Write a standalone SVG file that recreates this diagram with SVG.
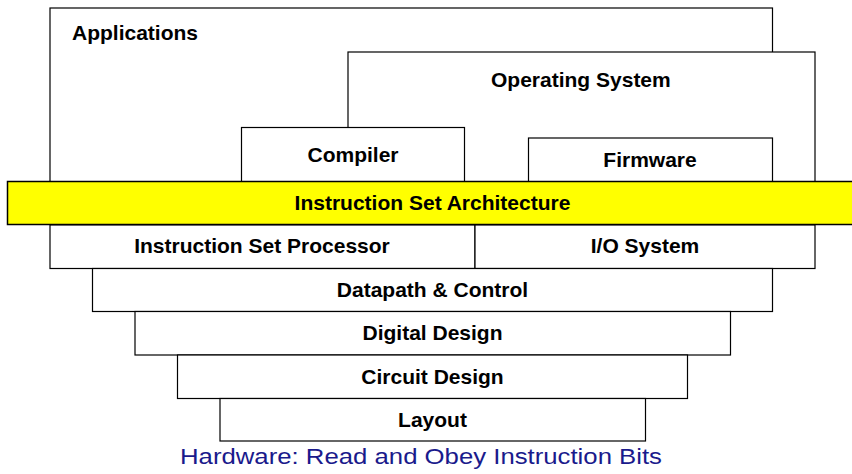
<svg xmlns="http://www.w3.org/2000/svg" width="852" height="474" viewBox="0 0 852 474">
<style>
.box{fill:#fff;stroke:#000;stroke-width:1.2}
.lbl{font-family:"Liberation Sans",Arial,sans-serif;font-weight:bold;font-size:21px;fill:#000}
.c{text-anchor:middle}
</style>
<rect width="852" height="474" fill="#fff"/>
<g id="applications"><rect class="box" x="50" y="8" width="722.5" height="180"/><text class="lbl" x="72" y="40">Applications</text></g>
<g id="os"><rect class="box" x="348" y="52" width="467" height="136"/><text class="lbl" x="491" y="86.5">Operating System</text></g>
<g id="compiler"><rect class="box" x="241.5" y="127.5" width="223" height="60"/><text class="lbl c" x="353" y="162">Compiler</text></g>
<g id="firmware"><rect class="box" x="528.5" y="138" width="244" height="50"/><text class="lbl c" x="650" y="167">Firmware</text></g>
<g id="isa"><rect x="7.5" y="181.5" width="850" height="43" fill="#ffff00" stroke="#000" stroke-width="1.5"/><text class="lbl c" x="432.5" y="210">Instruction Set Architecture</text></g>
<g id="isp"><rect class="box" x="50" y="225" width="425" height="43.5"/><text class="lbl c" x="262" y="253">Instruction Set Processor</text></g>
<g id="io"><rect class="box" x="475" y="225" width="340" height="43.5"/><text class="lbl c" x="645" y="253">I/O System</text></g>
<g id="datapath"><rect class="box" x="92.5" y="268.5" width="680" height="43"/><text class="lbl c" x="432.5" y="297">Datapath &amp; Control</text></g>
<g id="digital"><rect class="box" x="135" y="311.5" width="595.5" height="43.5"/><text class="lbl c" x="432.5" y="340">Digital Design</text></g>
<g id="circuit"><rect class="box" x="177.5" y="355" width="510" height="43.5"/><text class="lbl c" x="432.5" y="383.5">Circuit Design</text></g>
<g id="layout"><rect class="box" x="220" y="398.5" width="425.5" height="42.5"/><text class="lbl c" x="432.5" y="427">Layout</text></g>
<g id="connectors"></g>
<text x="180" y="463.5" font-family="'Liberation Sans Narrow','Liberation Sans',Arial,sans-serif" font-size="22.5" fill="#1a1a8c" textLength="482" lengthAdjust="spacingAndGlyphs">Hardware: Read and Obey Instruction Bits</text>
</svg>
